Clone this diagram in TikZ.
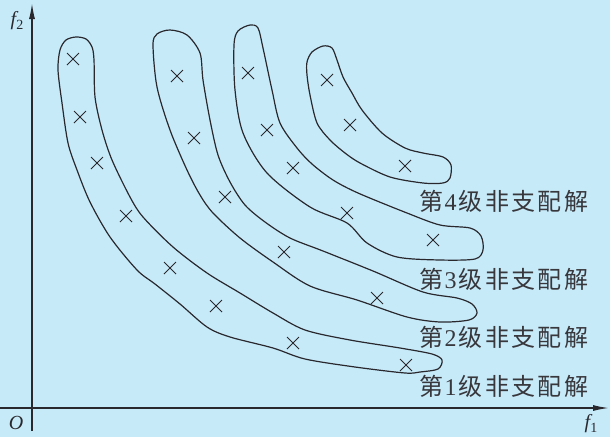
\documentclass[tikz,border=0pt]{standalone}
\usepackage{fontspec}
\setmainfont{Liberation Serif}
\newfontfamily\cjk[LetterSpace=10]{Noto Sans CJK SC}
\usetikzlibrary{arrows.meta,shapes.misc}
\definecolor{bgblue}{RGB}{199,234,249}
\definecolor{ink}{RGB}{40,40,45}
\definecolor{txt}{RGB}{55,55,60}
\newcommand\lvl[1]{{\cjk 第}\hspace{1.5pt}#1\hspace{2pt}{\cjk 级非支配解}}
\begin{document}
\begin{tikzpicture}[x=1pt,y=-1pt,
  band/.style={draw=ink,line width=1.2pt,line join=round},
  axisline/.style={draw=ink,line width=1.4pt},
  xmark/.style={cross out,draw=ink,line width=1pt,minimum size=11pt,inner sep=0pt},
  lab/.style={font=\fontsize{24}{24}\selectfont,text=txt,inner sep=0pt,anchor=west},
  axlab/.style={font=\fontsize{20}{20}\selectfont\itshape,text=ink,inner sep=0pt}]
\fill[bgblue] (0,0) rectangle (610,437);
\useasboundingbox (0,0) rectangle (610,437);
% axes
\coordinate (ybot) at (32,431);
\coordinate (ytop) at (32,3);
\coordinate (xl) at (0,408);
\coordinate (xr) at (609,408);
\draw[axisline,-{Latex[length=16pt,width=6pt]}] (ybot) -- (ytop);
\draw[axisline,-{Latex[length=16pt,width=6pt]}] (xl) -- (xr);
\node[axlab] (f2) at (17,21) {f\raisebox{-0.35ex}{\fontsize{14}{14}\selectfont\upshape 2}};
\node[axlab] (o) at (16,423) {O};
\node[axlab] (f1) at (591,424) {f\raisebox{-0.35ex}{\fontsize{14}{14}\selectfont\upshape 1}};
% band 1
\draw[band] plot[smooth cycle,tension=0.5] coordinates {
 (60,50) (66,40) (76,37) (86,39) (92,47) (94,60) (95,97) (102,130) (112,160)
 (130,197) (143,217) (173,247) (207,273) (240,293) (273,313) (305,330) (350,340)
 (400,348) (432,354) (442,360) (438,369) (420,372) (405,373) (355,367) (305,359)
 (273,348) (230,337) (207,327) (180,304) (155,284) (137,270) (110,237) (90,202)
 (77,170) (68,143) (62,103) (58,70)};
% band 2
\draw[band] plot[smooth cycle,tension=0.5] coordinates {
 (153,45) (157,34) (170,30) (187,35) (200,53) (203,80) (210,120) (218,155)
 (230,182) (245,205) (265,222) (290,238) (323,251) (373,271) (423,292) (457,298)
 (472,304) (477,313) (469,320) (440,322) (407,317) (357,300) (310,286) (273,262)
 (240,238) (213,213) (200,195) (187,170) (170,130) (157,87)};
% band 3
\draw[band] plot[smooth cycle,tension=0.5] coordinates {
 (234,45) (238,31) (250,25) (258,28) (263,48) (272,90) (280,123) (297,148)
 (312,164) (333,180) (358,193) (407,213) (440,225) (470,228) (481,236) (483,250)
 (475,259) (440,260) (397,257) (367,243) (347,223) (310,207) (267,173) (243,133)
 (235,90)};
% band 4
\draw[band] plot[smooth cycle,tension=0.5] coordinates {
 (307,62) (312,52) (323,46) (332,48) (337,60) (343,77) (352,93) (362,110)
 (382,133) (405,148) (423,153) (443,157) (451,165) (450,178) (443,183) (423,183)
 (390,177) (360,163) (345,153) (330,140) (317,123) (310,95) (307,75)};
% crosses band 1
\node[xmark] (a1) at (73,59) {};
\node[xmark] (a2) at (80,117) {};
\node[xmark] (a3) at (97,163) {};
\node[xmark] (a4) at (126,216) {};
\node[xmark] (a5) at (170,268) {};
\node[xmark] (a6) at (216,306) {};
\node[xmark] (a7) at (293,343) {};
\node[xmark] (a8) at (406,365) {};
% crosses band 2
\node[xmark] (b1) at (177,76) {};
\node[xmark] (b2) at (194,138) {};
\node[xmark] (b3) at (225,197) {};
\node[xmark] (b4) at (284,252) {};
\node[xmark] (b5) at (377,298) {};
% crosses band 3
\node[xmark] (c1) at (248,73) {};
\node[xmark] (c2) at (267,130) {};
\node[xmark] (c3) at (293,168) {};
\node[xmark] (c4) at (347,213) {};
\node[xmark] (c5) at (433,240) {};
% crosses band 4
\node[xmark] (d1) at (327,80) {};
\node[xmark] (d2) at (350,125) {};
\node[xmark] (d3) at (405,166) {};
% labels
\node[lab] (l4) at (419,201) {\lvl{4}};
\node[lab] (l3) at (419,279) {\lvl{3}};
\node[lab] (l2) at (419,337) {\lvl{2}};
\node[lab] (l1) at (419,386) {\lvl{1}};
\end{tikzpicture}
\end{document}
